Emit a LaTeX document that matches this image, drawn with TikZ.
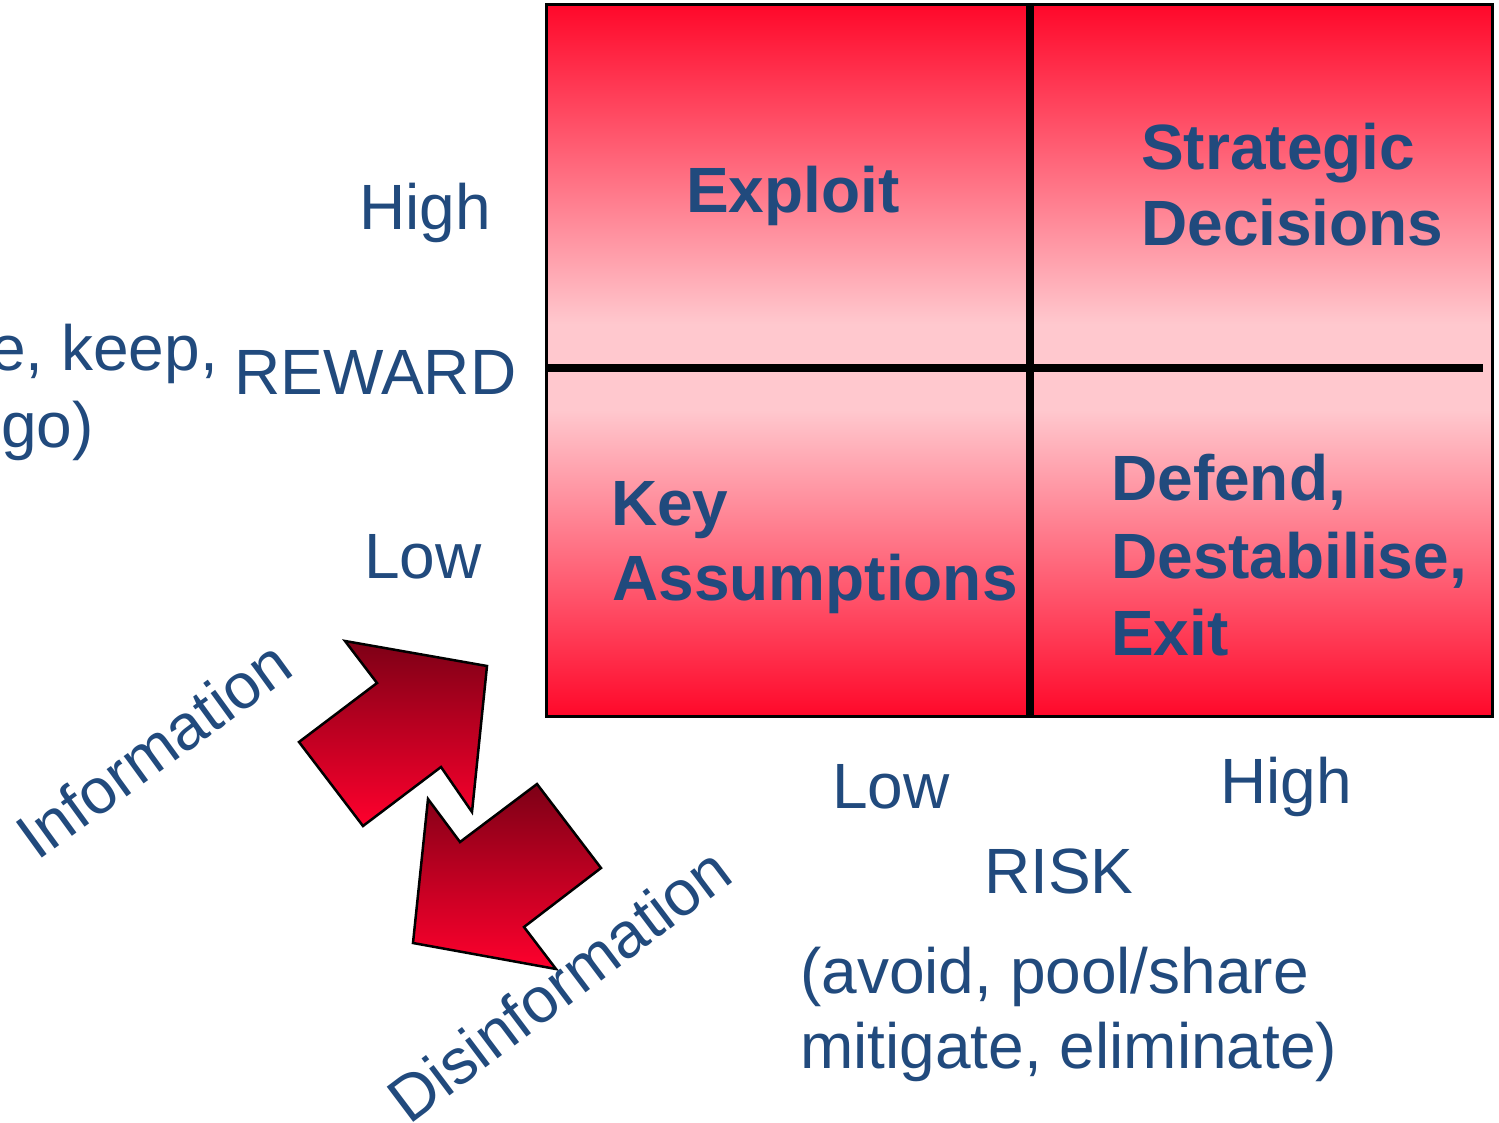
\documentclass[tikz,border=0pt]{standalone}
\usepackage{fontspec}
\setmainfont{Liberation Sans}
\definecolor{labelblue}{RGB}{33,74,125}
\definecolor{hotred}{RGB}{255,8,42}
\definecolor{palepink}{RGB}{255,200,206}
\definecolor{darkred}{RGB}{125,0,22}
\definecolor{brightred}{RGB}{255,0,45}
% red at the outer edge, pale pink towards the middle line
\pgfdeclareverticalshading{redtopink}{100bp}{color(0bp)=(palepink); color(31bp)=(palepink); color(75bp)=(hotred); color(100bp)=(hotred)}
\pgfdeclareverticalshading{pinktored}{100bp}{color(0bp)=(hotred); color(25bp)=(hotred); color(69bp)=(palepink); color(100bp)=(palepink)}
\begin{document}
\begin{tikzpicture}[x=1pt,y=-1pt,
  lbl/.style={text=labelblue,inner sep=0pt,anchor=base west,font=\fontsize{64}{76}\selectfont},
  quad/.style={lbl,font=\fontsize{64}{76}\selectfont\bfseries},
  bigarrow/.style={draw=black,line width=2.5pt,line join=miter,top color=darkred,bottom color=brightred},
  divider/.style={line width=7.5pt,black}]
\useasboundingbox[fill=white] (0,0) rectangle (1499,1123);

% risk/reward matrix
\coordinate (nw) at (546,5);
\coordinate (se) at (1492,716);
\shade[shading=redtopink] (546,5) rectangle (1492,368);
\shade[shading=pinktored] (546,368) rectangle (1492,716);
\draw[divider] (1030,5) -- (1030,716);
\draw[divider] (546,368) -- (1483,368);
\draw[line width=3pt] (nw) rectangle (se);

% quadrant labels
\node[quad] (exploit) at (686,213) {Exploit};
\node[quad] (strat1) at (1141,170) {Strategic};
\node[quad] (strat2) at (1141,246) {Decisions};
\node[quad] (key1) at (611,525) {Key};
\node[quad] (key2) at (612,600) {Assumptions};
\node[quad] (def1) at (1111,500) {Defend,};
\node[quad] (def2) at (1111,578) {Destabilise,};
\node[quad] (def3) at (1111,655) {Exit};

% reward axis
\node[lbl] (rhigh) at (359,230) {High};
\node[lbl] (reward) at (234,394) {REWARD};
\node[lbl] (rnote1) at (-10,370) {e, keep,};
\node[lbl] (rnote2) at (1,447) {go)};
\node[lbl] (rlow) at (364,578) {Low};

% risk axis
\node[lbl] (klow) at (832,808) {Low};
\node[lbl] (khigh) at (1220,803) {High};
\node[lbl] (risk) at (984,893) {RISK};
\node[lbl] (knote1) at (800,993) {(avoid, pool/share};
\node[lbl] (knote2) at (800,1068) {mitigate, eliminate)};

% information flow arrows
\path[bigarrow] (345,641) -- (487,666) -- (472,812) -- (441,767) -- (363,826) -- (299,742) -- (377,683) -- cycle;
\path[bigarrow] (428,799) -- (460,842) -- (537,784) -- (601,868) -- (524,927) -- (556,969) -- (413,943) -- cycle;
\node[lbl,rotate=36] (info) at (37,862) {Information};
\node[lbl,rotate=37] (disinfo) at (409,1126) {Disinformation};
\end{tikzpicture}
\end{document}
